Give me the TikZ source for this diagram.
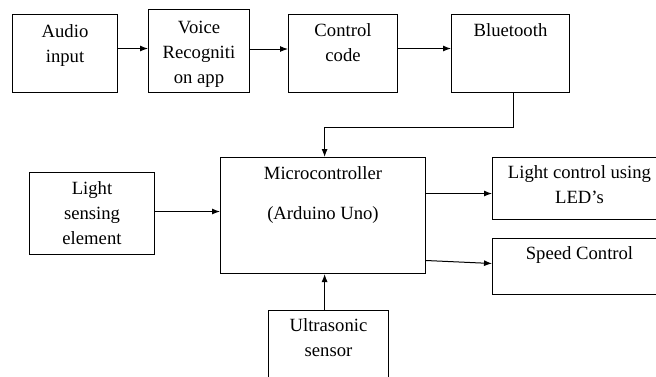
\documentclass[tikz,border=0pt]{standalone}
\usepackage{fontspec}
\newfontfamily\blockfont[Ligatures=TeX]{Liberation Serif}
\usetikzlibrary{arrows.meta,positioning}

\begin{document}
\begin{tikzpicture}[x=0.75pt,y=-0.75pt,
        blk/.style={draw,line width=0.75pt,anchor=north west,inner sep=0pt},
        txt/.style={anchor=north,align=center,inner sep=0pt,font=\blockfont\fontsize{14}{18.75}\selectfont},
        >={Latex[length=6pt,width=4.5pt]}]
            \useasboundingbox (0,0) rectangle (656,376);
            \clip (0,0) rectangle (656,376);
            % boxes
            \node[blk,minimum width=78.75pt,minimum height=58.5pt] (audio) at (12,14) {};
            \node[blk,minimum width=75.75pt,minimum height=62.25pt] (voice) at (148,9) {};
            \node[blk,minimum width=81.75pt,minimum height=58.5pt] (ctrl) at (288,14) {};
            \node[blk,minimum width=88.5pt,minimum height=58.5pt] (bt) at (451,14) {};
            \node[blk,minimum width=153.75pt,minimum height=87pt] (micro) at (220,157) {};
            \node[blk,minimum width=93.75pt,minimum height=61.5pt] (ls) at (29,172) {};
            \node[blk,minimum width=130.5pt,minimum height=46.5pt] (lctl) at (492,157) {};
            \node[blk,minimum width=130.5pt,minimum height=42pt] (speed) at (492,238) {};
            \node[blk,minimum width=90pt,minimum height=60pt] (ultra) at (268,310) {};
            % texts
            \node[txt,below=8pt of audio.north] (audiotxt) {Audio\\input};
            \node[txt,below=9pt of voice.north] (voicetxt) {Voice\\Recogniti\\on app};
            \node[txt,below=7pt of ctrl.north] (ctrltxt) {Control\\code};
            \node[txt,below=7pt of bt.north] (bttxt) {Bluetooth};
            \node[txt,below=7pt of micro.north] (microtxt) {Microcontroller\\[11.25pt](Arduino Uno)};
            \node[txt,below=7pt of ls.north] (lstxt) {Light\\sensing\\element};
            \node[txt,below=6.5pt of lctl.north] (lctltxt) {Light control using\\LED’s};
            \node[txt,below=6.5pt of speed.north] (speedtxt) {Speed Control};
            \node[txt,below=6.5pt of ultra.north] (ultratxt) {Ultrasonic\\sensor};
            % arrows
            \draw[->,line width=0.75pt] ([yshift=3.75pt]audio.east) -- ([yshift=3.75pt]audio.east -| voice.west);
            \draw[->,line width=0.75pt] ([yshift=1.5pt]voice.east) -- ([yshift=1.5pt]voice.east -| ctrl.west);
            \draw[->,line width=0.75pt] ([yshift=3.75pt]ctrl.east) -- ([yshift=3.75pt]ctrl.east -| bt.west);
            \draw[->,line width=0.75pt] ([xshift=2.25pt]bt.south) -- ++(0,34) -| ([xshift=1.2pt]micro.north);
            \draw[->,line width=0.75pt] ([yshift=1.5pt]ls.east) -- ([yshift=1.5pt]ls.east -| micro.west);
            \draw[->,line width=0.75pt] ([yshift=-3.75pt]micro.east |- lctl.west) -- ([yshift=-3.75pt]lctl.west);
            \draw[->,line width=0.75pt] ([yshift=4.5pt]micro.east |- speed.west) -- ([yshift=2.25pt]speed.west);
            \draw[->,line width=0.75pt] ([xshift=1.2pt]micro.south |- ultra.north) -- ([xshift=1.2pt]micro.south);
\end{tikzpicture}
\end{document}
